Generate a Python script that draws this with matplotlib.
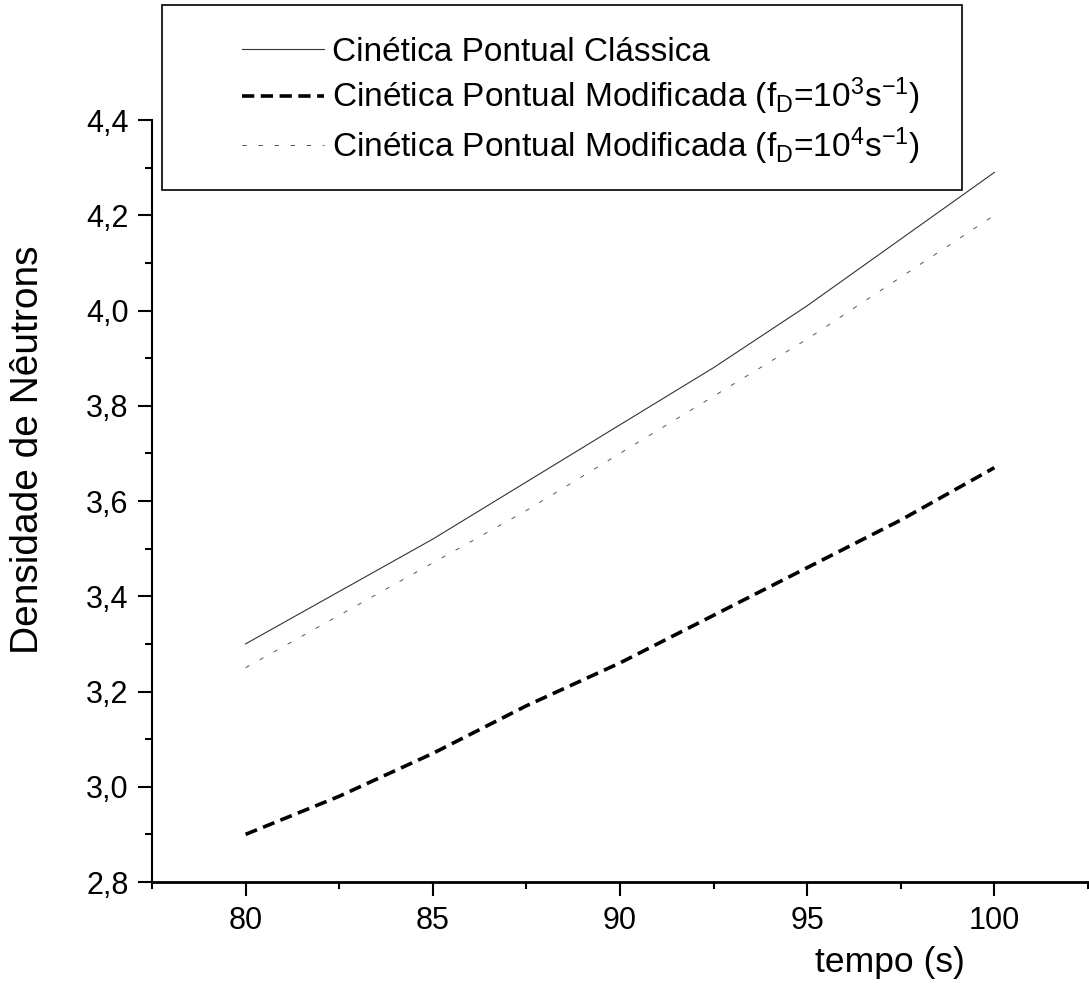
import matplotlib
matplotlib.use("Agg")
from matplotlib import pyplot as plt
from matplotlib.patches import Rectangle
from matplotlib.ticker import FuncFormatter, MultipleLocator

# tempo (s)
tempo = [80, 82.5, 85, 87.5, 90, 92.5, 95, 97.5, 100]
# densidade de neutrons
classica = [3.30, 3.41, 3.52, 3.64, 3.76, 3.88, 4.01, 4.15, 4.29]
modificada_1e3 = [2.90, 2.98, 3.07, 3.17, 3.26, 3.36, 3.46, 3.56, 3.67]
modificada_1e4 = [3.25, 3.36, 3.47, 3.58, 3.70, 3.82, 3.94, 4.07, 4.20]

labels = ["Cinética Pontual Clássica",
          "Cinética Pontual Modificada (f$_D$=10$^3$s$^{-1}$)",
          "Cinética Pontual Modificada (f$_D$=10$^4$s$^{-1}$)"]

plt.rcParams["font.family"] = ["Liberation Sans", "DejaVu Sans"]
plt.rcParams["mathtext.fontset"] = "custom"
plt.rcParams["mathtext.rm"] = "Liberation Sans"
plt.rcParams["mathtext.it"] = "Liberation Sans:italic"
plt.rcParams["mathtext.default"] = "regular"

W, H = 1089, 985
fig = plt.figure(figsize=(W / 100, H / 100), dpi=100)
ax = fig.add_axes([152 / W, 1 - 882 / H, 936 / W, 762 / H])

ax.plot(tempo, classica, color="#333333", lw=0.8, label=labels[0])
ax.plot(tempo, modificada_1e3, color="black", lw=2.6, dashes=(3.4, 1.8), label=labels[1])
ax.plot(tempo, modificada_1e4, color="#555555", lw=0.7, dashes=(4.5, 12), label=labels[2])

ax.set_xlim(77.5, 102.5)
ax.set_ylim(2.8, 4.4)
ax.xaxis.set_major_locator(MultipleLocator(5))
ax.xaxis.set_minor_locator(MultipleLocator(2.5))
ax.yaxis.set_major_locator(MultipleLocator(0.2))
ax.yaxis.set_minor_locator(MultipleLocator(0.1))
ax.yaxis.set_major_formatter(FuncFormatter(lambda v, p: f"{v:.1f}".replace(".", ",")))

for side in ["top", "right"]:
    ax.spines[side].set_visible(False)
ax.spines["left"].set_linewidth(1.5)
ax.spines["bottom"].set_linewidth(2.0)
ax.tick_params(which="major", direction="out", length=10, width=1.5, labelsize=22, pad=7)
ax.tick_params(which="minor", direction="out", length=5, width=1.5)

ax.set_xlabel("tempo (s)", fontsize=25.5, va="center")
ax.xaxis.set_label_coords(0.788, -0.106)
ax.set_ylabel("Densidade de Nêutrons", fontsize=28, va="center")
ax.yaxis.set_label_coords(-0.133, 0.567)

fig.patches.append(Rectangle((162 / W, 1 - 190 / H), 800 / W, 185 / H,
                             transform=fig.transFigure, fill=False, lw=1.2, ec="black"))
ax.legend(loc="upper left", bbox_to_anchor=(225 / W, 1 - 20 / H), bbox_transform=fig.transFigure,
          frameon=False, fontsize=24, borderpad=0, handlelength=2.46, handletextpad=0.24,
          labelspacing=0.24)

fig.savefig("out.png", dpi=100)
